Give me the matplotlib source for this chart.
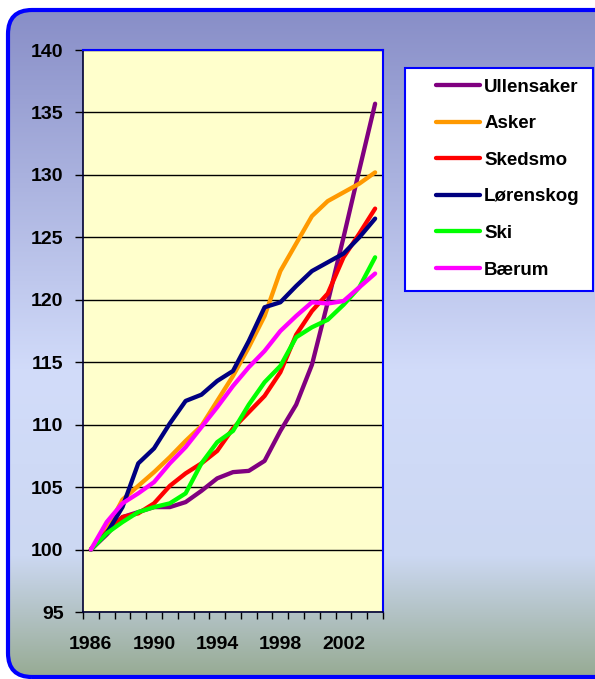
import matplotlib
matplotlib.use('Agg')
import matplotlib.pyplot as plt
import numpy as np
from matplotlib.colors import LinearSegmentedColormap
from matplotlib.patches import FancyBboxPatch, Rectangle

plt.rcParams['font.family'] = ['Liberation Sans', 'DejaVu Sans']
plt.rcParams['font.weight'] = 'bold'

# index values, 1986 = 100
years = list(range(1986, 2005))
ullensaker = [100, 101.2, 102.6, 103.0, 103.4, 103.4, 103.8, 104.7, 105.7, 106.2,
              106.3, 107.1, 109.5, 111.6, 114.8, 119.8, 125.0, 130.4, 135.7]
asker = [100, 101.6, 104.0, 105.1, 106.2, 107.4, 108.7, 109.9, 111.9, 113.9,
         116.2, 118.7, 122.3, 124.5, 126.7, 127.9, 128.6, 129.3, 130.2]
skedsmo = [100, 101.4, 102.6, 102.9, 103.7, 105.1, 106.1, 106.9, 107.9, 109.7,
           111.0, 112.3, 114.2, 117.2, 119.1, 120.5, 123.4, 125.3, 127.3]
lorenskog = [100, 101.3, 103.4, 106.9, 108.1, 110.1, 111.9, 112.4, 113.5, 114.3,
             116.7, 119.4, 119.8, 121.1, 122.3, 123.0, 123.7, 125.0, 126.5]
ski = [100, 101.3, 102.2, 103.0, 103.4, 103.7, 104.5, 106.9, 108.6, 109.5,
       111.6, 113.4, 114.7, 117.0, 117.8, 118.4, 119.6, 121.0, 123.4]
baerum = [100, 102.2, 103.7, 104.5, 105.4, 106.9, 108.2, 109.8, 111.4, 113.1,
          114.6, 115.9, 117.5, 118.7, 119.8, 119.7, 119.9, 121.0, 122.1]

series = [
    ('Ullensaker', ullensaker, '#800080'),
    ('Asker', asker, '#FF9900'),
    ('Skedsmo', skedsmo, '#FF0000'),
    ('Lørenskog', lorenskog, '#000080'),
    ('Ski', ski, '#00FF00'),
    ('Bærum', baerum, '#FF00FF'),
]

W, H = 595, 679
fig = plt.figure(figsize=(W / 100, H / 100), dpi=100)
fig.patch.set_facecolor('white')

# background with gradient, clipped to a rounded box
bg = fig.add_axes([0, 0, 1, 1])
bg.set_xlim(0, W)
bg.set_ylim(0, H)
bg.axis('off')
grad_cmap = LinearSegmentedColormap.from_list(
    'bg', [(0, '#868CC6'), (0.55, '#D2DCFA'), (0.82, '#CCD8F2'), (1.0, '#96AA92')])
grad = np.linspace(0, 1, 256).reshape(-1, 1)
img = bg.imshow(grad, cmap=grad_cmap, extent=[0, W, 0, H], origin='upper',
                aspect='auto', zorder=0)
box = FancyBboxPatch((8, 2), W + 20, H - 12, boxstyle='round,pad=0,rounding_size=24',
                     facecolor='none', edgecolor='#0000FF', linewidth=3, zorder=2)
bg.add_patch(box)
img.set_clip_path(box)

# legend frame
bg.add_patch(Rectangle((405, H - 291), 188, 223, facecolor='white',
                       edgecolor='#0000FF', linewidth=1.5, zorder=3))

ax = fig.add_axes([83 / W, 1 - 612 / H, 300 / W, 562 / H])
ax.set_facecolor('#FFFFCC')
x = np.arange(len(years))
for name, vals, col in series:
    ax.plot(x, vals, color=col, lw=3.1, label=name,
            solid_capstyle='round', solid_joinstyle='round')

ax.set_xlim(-0.5, len(years) - 0.5)
ax.set_ylim(95, 140)
ax.set_yticks(np.arange(95, 141, 5))
ax.set_xticks(x[::4])
ax.set_xticklabels([str(y) for y in years[::4]])
ax.set_xticks(np.arange(-0.5, len(years), 1), minor=True)
ax.tick_params(axis='x', which='major', length=0, pad=17, labelsize=14)
ax.tick_params(axis='x', which='minor', length=5, width=1, direction='out')
ax.tick_params(axis='y', length=6, width=1, pad=8, labelsize=14)
for t in ax.get_xticklabels() + ax.get_yticklabels():
    t.set_fontweight('bold')
ax.yaxis.grid(True, color='black', lw=1)
ax.set_axisbelow(True)
for s in ['top', 'right']:
    ax.spines[s].set_color('#0000FF')
    ax.spines[s].set_linewidth(1.5)
for s in ['left', 'bottom']:
    ax.spines[s].set_color('#000033')
    ax.spines[s].set_linewidth(1.2)

leg = fig.legend(loc='upper left', bbox_to_anchor=(427 / W, 1 - 69 / H),
                 frameon=False, borderpad=0, handlelength=2.35, handletextpad=0.2,
                 labelspacing=1.04, prop={'weight': 'bold', 'size': 13.5})
leg.set_zorder(5)
for ln in leg.get_lines():
    ln.set_linewidth(3.1)
    ln.set_solid_capstyle('round')

fig.savefig('out.png', dpi=100)
